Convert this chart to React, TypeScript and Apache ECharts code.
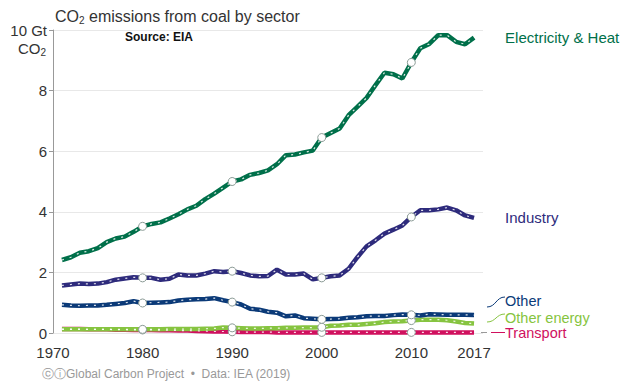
import React, { useEffect, useRef } from "react";
import * as echarts from "echarts";

const years: number[] = [];
for (let y = 1971; y <= 2017; y++) years.push(y);

const electricity = [2.41, 2.5, 2.65, 2.7, 2.8, 3.0, 3.12, 3.18, 3.34, 3.52, 3.6, 3.65, 3.78, 3.92, 4.08, 4.2, 4.42, 4.6, 4.8, 5.0, 5.07, 5.22, 5.28, 5.37, 5.57, 5.87, 5.89, 5.96, 6.02, 6.45, 6.6, 6.75, 7.19, 7.47, 7.76, 8.18, 8.59, 8.54, 8.4, 8.93, 9.4, 9.54, 9.83, 9.83, 9.61, 9.53, 9.75];
const industry = [1.57, 1.6, 1.63, 1.62, 1.63, 1.68, 1.76, 1.8, 1.84, 1.82, 1.82, 1.76, 1.79, 1.93, 1.9, 1.9, 1.96, 2.04, 2.01, 2.04, 1.98, 1.9, 1.87, 1.88, 2.09, 1.93, 1.93, 1.96, 1.77, 1.82, 1.87, 1.9, 2.12, 2.51, 2.86, 3.06, 3.28, 3.41, 3.55, 3.83, 4.05, 4.05, 4.08, 4.14, 4.05, 3.88, 3.8];
const other = [0.93, 0.91, 0.9, 0.91, 0.91, 0.93, 0.96, 0.99, 1.05, 0.99, 1.0, 1.01, 1.02, 1.07, 1.1, 1.11, 1.12, 1.15, 1.08, 1.02, 0.94, 0.8, 0.77, 0.7, 0.67, 0.55, 0.58, 0.49, 0.47, 0.45, 0.46, 0.47, 0.5, 0.52, 0.55, 0.56, 0.56, 0.59, 0.61, 0.6, 0.58, 0.62, 0.61, 0.6, 0.6, 0.6, 0.59];
const otherEnergy = [0.12, 0.12, 0.12, 0.12, 0.12, 0.12, 0.12, 0.12, 0.12, 0.12, 0.12, 0.12, 0.13, 0.13, 0.13, 0.13, 0.14, 0.15, 0.18, 0.17, 0.16, 0.15, 0.15, 0.16, 0.16, 0.17, 0.17, 0.18, 0.18, 0.19, 0.24, 0.25, 0.27, 0.27, 0.3, 0.32, 0.36, 0.38, 0.39, 0.41, 0.44, 0.44, 0.44, 0.42, 0.38, 0.33, 0.31];
const transport = [0.13, 0.13, 0.13, 0.12, 0.12, 0.12, 0.11, 0.11, 0.1, 0.1, 0.1, 0.09, 0.09, 0.08, 0.08, 0.07, 0.06, 0.05, 0.05, 0.04, 0.03, 0.03, 0.03, 0.03, 0.02, 0.02, 0.02, 0.02, 0.02, 0.02, 0.02, 0.02, 0.02, 0.02, 0.02, 0.02, 0.02, 0.02, 0.02, 0.02, 0.02, 0.02, 0.02, 0.02, 0.02, 0.02, 0.02];

const xTickLabels = [1970, 1980, 1990, 2000, 2010, 2017];
const markerYears = [1980, 1990, 2000, 2010];

const sectors = [
  { name: "Transport", values: transport, color: "#D0105E", offset: [0, 1], size: 14.5 },
  { name: "Other energy", values: otherEnergy, color: "#86C440", offset: [0, -6], size: 14.5 },
  { name: "Other", values: other, color: "#0B3A78", offset: [0, -14], size: 14.5 },
  { name: "Industry", values: industry, color: "#2E2B7C", offset: [0, 0], size: 15 },
  { name: "Electricity & Heat", values: electricity, color: "#00704A", offset: [0, 0], size: 15 },
];

const FONT = "Liberation Sans, Arial, sans-serif";

export default function App() {
  const ref = useRef<HTMLDivElement>(null);
  useEffect(() => {
    if (!ref.current) return;
    const chart = echarts.init(ref.current, null, { renderer: "svg" });
    const series: any[] = [];
    sectors.forEach((s) => {
      const data = years.map((y, i) => [y, s.values[i]]);
      series.push({
        type: "line",
        name: s.name,
        data,
        symbol: "none",
        lineStyle: { color: s.color, width: 4.5 },
        itemStyle: { color: s.color },
        z: 2,
        endLabel: {
          show: true,
          formatter: s.name,
          color: s.color,
          fontSize: s.size,
          lineHeight: 14,
          fontFamily: FONT,
          distance: 31,
          offset: s.offset,
        },
      });
      series.push({
        type: "line",
        name: s.name + " dash",
        data,
        symbol: "none",
        lineStyle: { color: "rgba(255,255,255,0.85)", width: 1.2, type: [2, 6] },
        z: 3,
        silent: true,
      });
      series.push({
        type: "scatter",
        name: s.name + " markers",
        data: data.filter((d) => markerYears.includes(d[0] as number)),
        symbol: "circle",
        symbolSize: 8,
        itemStyle: { color: "#ffffff", borderColor: "#8a9a95", borderWidth: 1, opacity: 1 },
        z: 4,
        silent: true,
      });
    });

    chart.setOption({
      animation: false,
      grid: { left: 53, right: 146, top: 30, bottom: 50 },
      xAxis: {
        type: "value",
        min: 1970,
        max: 2018,
        axisLine: { show: false },
        axisTick: { show: false },
        splitLine: { show: false },
        axisLabel: {
          customValues: xTickLabels,
          color: "#333",
          fontSize: 15,
          fontFamily: FONT,
          margin: 12,
          formatter: (v: number) => String(v),
        },
      },
      yAxis: {
        type: "value",
        min: 0,
        max: 10,
        interval: 2,
        axisLine: { show: true, lineStyle: { color: "#999", width: 1 } },
        axisTick: { show: true, length: 4, lineStyle: { color: "#999" } },
        splitLine: { show: true, lineStyle: { color: "#e8e8e8", width: 1 } },
        axisLabel: {
          color: "#333",
          fontSize: 15,
          fontFamily: FONT,
          margin: 6,
          formatter: (v: number) => (v === 10 ? "10 Gt" : String(v)),
        },
      },
      graphic: [
        {
          type: "text",
          left: 55,
          top: 7,
          style: {
            text: "{a|CO}{b|2}{a| emissions from coal by sector}",
            rich: {
              a: { fontSize: 16, fontFamily: FONT, fill: "#333", lineHeight: 20 },
              b: { fontSize: 10, fontFamily: FONT, fill: "#333", lineHeight: 20, padding: [8, 0, 0, 0] },
            },
          },
        },
        {
          type: "text",
          left: 125,
          top: 31,
          style: { text: "Source: EIA", font: "bold 12px " + FONT, fill: "#111" },
        },
        {
          type: "text",
          right: 629 - 46,
          top: 39,
          style: {
            text: "{a|CO}{b|2}",
            rich: {
              a: { fontSize: 15, fontFamily: FONT, fill: "#333", lineHeight: 20 },
              b: { fontSize: 10, fontFamily: FONT, fill: "#333", lineHeight: 20, padding: [8, 0, 0, 0] },
            },
          },
        },
        {
          type: "bezierCurve",
          shape: { x1: 487, y1: 307, x2: 505, y2: 297, cpx1: 496, cpy1: 307, cpx2: 496, cpy2: 297 },
          style: { stroke: "#0B3A78", lineWidth: 1, fill: "none" },
        },
        {
          type: "bezierCurve",
          shape: { x1: 487, y1: 322, x2: 505, y2: 314, cpx1: 496, cpy1: 322, cpx2: 496, cpy2: 314 },
          style: { stroke: "#86C440", lineWidth: 1, fill: "none" },
        },
        {
          type: "line",
          shape: { x1: 481, y1: 332.5, x2: 487, y2: 332.5 },
          style: { stroke: "#999", lineWidth: 1 },
        },
        {
          type: "line",
          shape: { x1: 491, y1: 332.5, x2: 505, y2: 332.5 },
          style: { stroke: "#D0105E", lineWidth: 1 },
        },
        {
          type: "text",
          left: 42,
          top: 368,
          style: {
            text: "ⓒⓘGlobal Carbon Project  •  Data: IEA (2019)",
            font: "12px " + FONT,
            fill: "#999",
          },
        },
      ],
      series,
    });
    return () => chart.dispose();
  }, []);
  return <div ref={ref} style={{ width: 629, height: 383, position: "fixed", left: 0, top: 0, background: "#fff" }} />;
}
